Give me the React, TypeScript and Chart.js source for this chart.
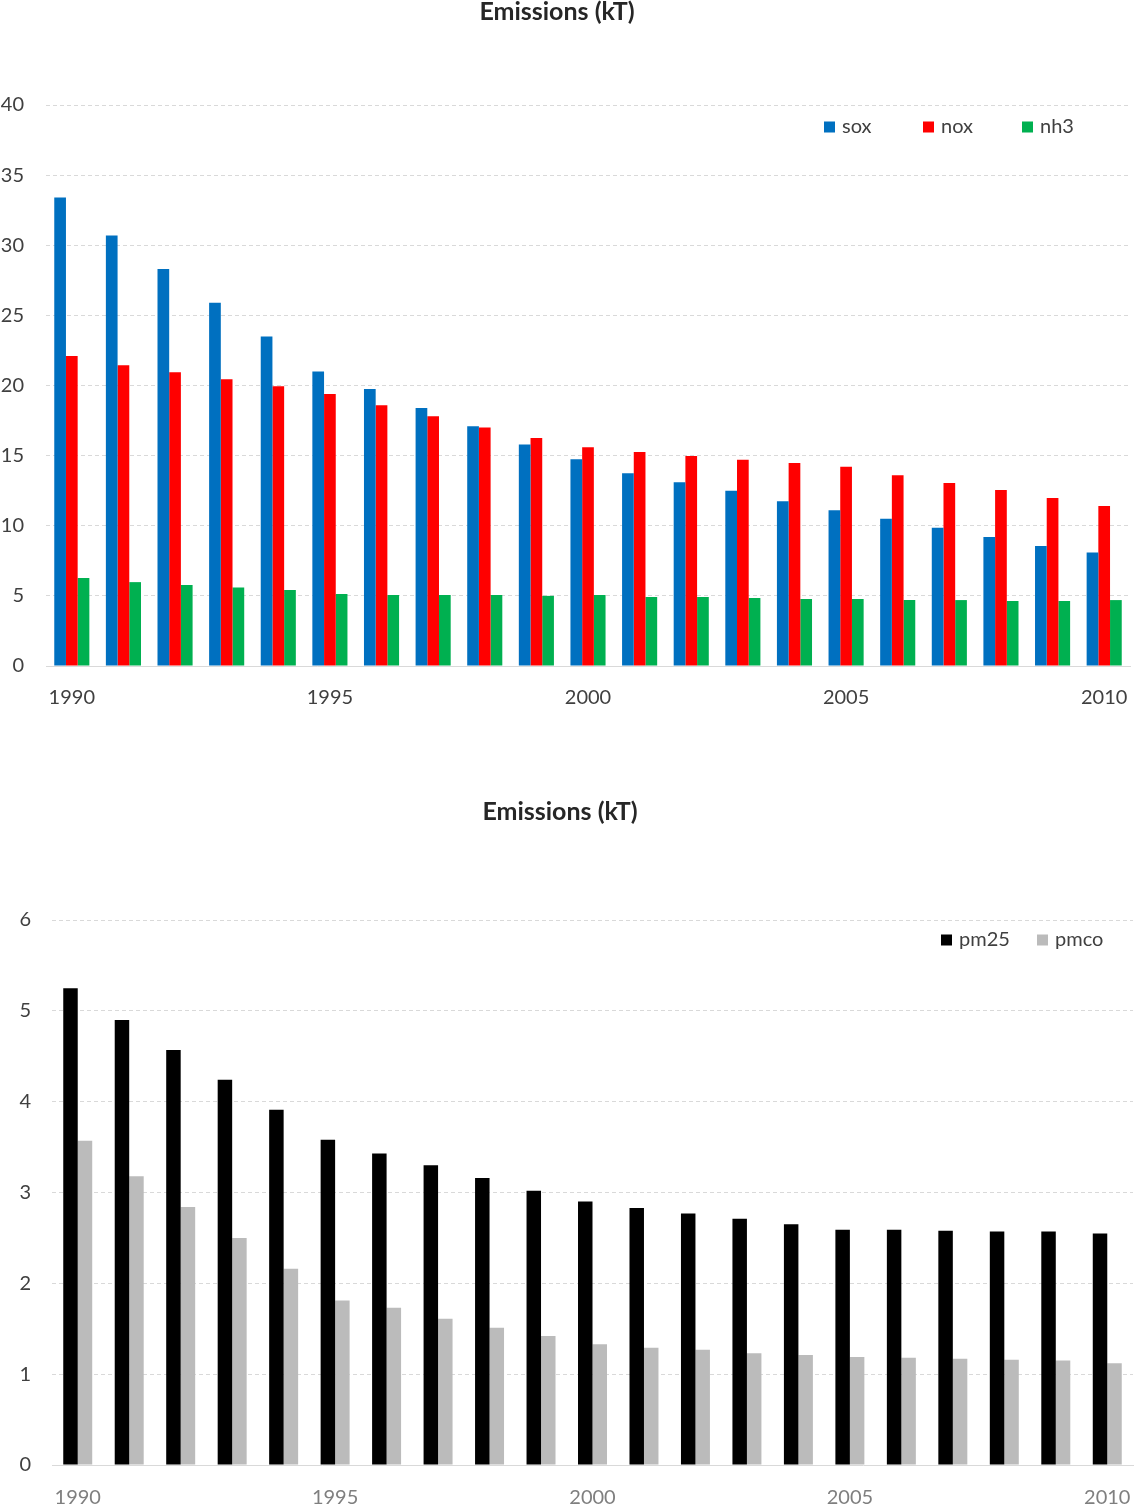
import React, { useEffect, useRef } from "react";
import { Chart, registerables } from "chart.js";
Chart.register(...registerables);

const years = ["1990","1991","1992","1993","1994","1995","1996","1997","1998","1999","2000","2001","2002","2003","2004","2005","2006","2007","2008","2009","2010"];

const sox = [33.4, 30.7, 28.3, 25.9, 23.5, 21.0, 19.75, 18.4, 17.1, 15.8, 14.75, 13.75, 13.1, 12.5, 11.75, 11.1, 10.5, 9.85, 9.2, 8.55, 8.1];
const nox = [22.1, 21.45, 20.95, 20.45, 19.95, 19.4, 18.6, 17.8, 17.0, 16.25, 15.6, 15.25, 14.97, 14.7, 14.47, 14.2, 13.6, 13.05, 12.55, 11.97, 11.4];
const nh3 = [6.28, 5.98, 5.78, 5.6, 5.42, 5.13, 5.06, 5.06, 5.06, 5.0, 5.06, 4.92, 4.92, 4.85, 4.78, 4.78, 4.7, 4.7, 4.63, 4.63, 4.7];

const pm25 = [5.25, 4.9, 4.57, 4.24, 3.91, 3.58, 3.43, 3.3, 3.16, 3.02, 2.9, 2.83, 2.77, 2.71, 2.65, 2.59, 2.59, 2.58, 2.57, 2.57, 2.55];
const pmco = [3.57, 3.18, 2.84, 2.5, 2.16, 1.81, 1.73, 1.61, 1.51, 1.42, 1.33, 1.29, 1.27, 1.23, 1.21, 1.19, 1.18, 1.17, 1.16, 1.15, 1.12];

const titleText = "Emissions (kT)";
const FONT = "Lato, 'Noto Sans', sans-serif";

type Cfg = {
  height: number;
  series: { label: string; data: number[]; color: string }[];
  yMax: number;
  yStep: number;
  yWidth: number;
  yPad: number;
  rightPad: number;
  plotTop: number;
  titleX: number;
  titleY: number;
  xHeight: number;
  xPad: number;
  xColor: string;
  catPct: number;
  legendX: number;
  legendY: number;
  legendStep: number;
};

function extras(cfg: Cfg) {
  return {
    id: "extras",
    afterDraw(chart: any) {
      const ctx = chart.ctx;
      ctx.save();
      // title
      ctx.font = `bold 25px ${FONT}`;
      ctx.fillStyle = "#262626";
      ctx.textAlign = "center";
      ctx.textBaseline = "middle";
      ctx.fillText(titleText, cfg.titleX, cfg.titleY);
      // legend
      ctx.font = `20px ${FONT}`;
      ctx.textAlign = "left";
      chart.data.datasets.forEach((ds: any, i: number) => {
        const x = cfg.legendX + i * cfg.legendStep;
        ctx.fillStyle = ds.backgroundColor;
        ctx.fillRect(x, cfg.legendY - 5.5, 11, 11);
        ctx.fillStyle = "#404040";
        ctx.fillText(ds.label, x + 18, cfg.legendY);
      });
      ctx.restore();
    },
  };
}

function BarChart({ cfg }: { cfg: Cfg }) {
  const ref = useRef<HTMLCanvasElement>(null);
  useEffect(() => {
    if (!ref.current) return;
    const chart = new Chart(ref.current, {
      type: "bar",
      data: {
        labels: years,
        datasets: cfg.series.map((s) => ({
          label: s.label,
          data: s.data,
          backgroundColor: s.color,
          borderWidth: 0,
          categoryPercentage: cfg.catPct,
          barPercentage: 1,
        })),
      },
      options: {
        responsive: false,
        animation: false,
        devicePixelRatio: 1,
        layout: { padding: { left: 0, right: cfg.rightPad, top: cfg.plotTop, bottom: 0 } },
        plugins: {
          legend: { display: false },
          tooltip: { enabled: false },
          title: { display: false },
        },
        scales: {
          x: {
            grid: { display: false },
            border: { display: true, color: "#d9d9d9", width: 1 },
            afterFit: (s: any) => {
              s.height = cfg.xHeight;
              s.paddingLeft = 0;
              s.paddingRight = 0;
            },
            ticks: {
              autoSkip: false,
              maxRotation: 0,
              minRotation: 0,
              padding: cfg.xPad,
              color: cfg.xColor,
              font: { family: FONT, size: 20 },
              callback: function (this: any, value: any) {
                const l = this.getLabelForValue(value);
                return Number(l) % 5 === 0 ? l : "";
              },
            },
          },
          y: {
            min: 0,
            max: cfg.yMax,
            afterFit: (s: any) => { s.width = cfg.yWidth; },
            border: { display: false, dash: [4, 3] },
            grid: { color: "#d9d9d9", drawTicks: false, lineWidth: 1 },
            ticks: {
              stepSize: cfg.yStep,
              padding: cfg.yPad,
              color: "#404040",
              font: { family: FONT, size: 20 },
            },
          },
        },
      },
      plugins: [extras(cfg)],
    } as any);
    return () => chart.destroy();
  }, []);
  return <canvas ref={ref} width={1134} height={cfg.height} style={{ width: 1134, height: cfg.height, display: "block" }} />;
}

const cfg1: Cfg = {
  height: 740,
  series: [
    { label: "sox", data: sox, color: "#0070C0" },
    { label: "nox", data: nox, color: "#FF0000" },
    { label: "nh3", data: nh3, color: "#00B050" },
  ],
  yMax: 40,
  yStep: 5,
  yWidth: 46,
  yPad: 22,
  rightPad: 4,
  plotTop: 105,
  titleX: 557,
  titleY: 12,
  xHeight: 74,
  xPad: 12,
  xColor: "#404040",
  catPct: 0.68,
  legendX: 824,
  legendY: 127,
  legendStep: 99,
};

const cfg2: Cfg = {
  height: 705,
  series: [
    { label: "pm25", data: pm25, color: "#000000" },
    { label: "pmco", data: pmco, color: "#BBBBBB" },
  ],
  yMax: 6,
  yStep: 1,
  yWidth: 52,
  yPad: 21,
  rightPad: 1,
  plotTop: 120,
  titleX: 560,
  titleY: 12,
  xHeight: 40,
  xPad: 13,
  xColor: "#7f7f7f",
  catPct: 0.563,
  legendX: 941,
  legendY: 140,
  legendStep: 96,
};

export default function App() {
  return (
    <div style={{ position: "absolute", left: 0, top: 0, width: 1134, height: 1505, background: "#fff" }}>
      <div style={{ position: "absolute", left: 0, top: 0 }}>
        <BarChart cfg={cfg1} />
      </div>
      <div style={{ position: "absolute", left: 0, top: 800 }}>
        <BarChart cfg={cfg2} />
      </div>
    </div>
  );
}
